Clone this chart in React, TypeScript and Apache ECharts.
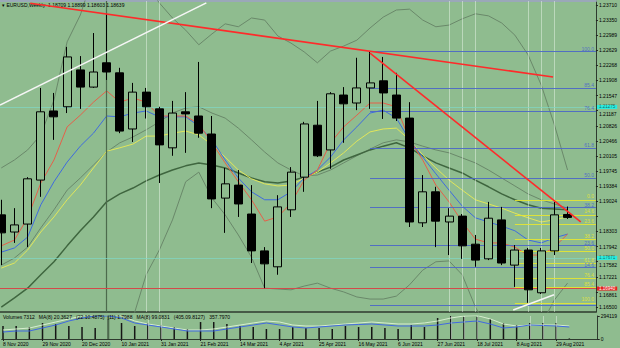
import { useEffect, useRef } from "react";
import * as echarts from "echarts";

// ---- data ----
const weeks = [
  "8 Nov 2020", "15 Nov 2020", "22 Nov 2020", "29 Nov 2020", "6 Dec 2020", "13 Dec 2020", "20 Dec 2020", "27 Dec 2020",
  "3 Jan 2021", "10 Jan 2021", "17 Jan 2021", "24 Jan 2021", "31 Jan 2021", "7 Feb 2021", "14 Feb 2021", "21 Feb 2021",
  "28 Feb 2021", "7 Mar 2021", "14 Mar 2021", "21 Mar 2021", "28 Mar 2021", "4 Apr 2021", "11 Apr 2021", "18 Apr 2021",
  "25 Apr 2021", "2 May 2021", "9 May 2021", "16 May 2021", "23 May 2021", "30 May 2021", "6 Jun 2021", "13 Jun 2021",
  "20 Jun 2021", "27 Jun 2021", "4 Jul 2021", "11 Jul 2021", "18 Jul 2021", "25 Jul 2021", "1 Aug 2021", "8 Aug 2021",
  "15 Aug 2021", "22 Aug 2021", "29 Aug 2021", "5 Sep 2021",
];
const opens = [1.1870, 1.1829, 1.1848, 1.1953, 1.2118, 1.2128, 1.2216, 1.2175, 1.2233, 1.2209, 1.2075, 1.2163, 1.2123, 1.2030, 1.2116, 1.2106, 1.2063, 1.1910, 1.1941, 1.1872, 1.1784, 1.1746, 1.1882, 1.1960, 1.2084, 1.2025, 1.2156, 1.2137, 1.2173, 1.2190, 1.2156, 1.2101, 1.1851, 1.1925, 1.1853, 1.1867, 1.1800, 1.1765, 1.1858, 1.1750, 1.1786, 1.1684, 1.1784, 1.18709];
const closes = [1.1827, 1.1846, 1.1956, 1.2116, 1.2104, 1.2247, 1.2175, 1.2211, 1.2211, 1.2070, 1.2163, 1.2128, 1.2037, 1.2113, 1.2111, 1.2065, 1.1908, 1.1944, 1.1896, 1.1784, 1.1753, 1.1889, 1.1972, 1.2087, 1.2011, 1.2159, 1.2135, 1.2173, 1.2185, 1.2161, 1.2101, 1.1853, 1.1925, 1.1855, 1.1867, 1.1796, 1.1762, 1.1862, 1.1755, 1.1786, 1.1691, 1.1784, 1.1870, 1.18639];
const lows = [1.1750, 1.1803, 1.1793, 1.1913, 1.2049, 1.2113, 1.2123, 1.2173, 1.2192, 1.2065, 1.2044, 1.2100, 1.1946, 1.2011, 1.2018, 1.2054, 1.1886, 1.1827, 1.1865, 1.1755, 1.1695, 1.1727, 1.1865, 1.1925, 1.2008, 1.1980, 1.2042, 1.2120, 1.2123, 1.2099, 1.2094, 1.1841, 1.1841, 1.1793, 1.1774, 1.1765, 1.1746, 1.1762, 1.1750, 1.1698, 1.1660, 1.1681, 1.1774, 1.18603];
const highs = [1.1906, 1.1886, 1.1960, 1.2173, 1.2161, 1.2271, 1.2249, 1.2304, 1.2350, 1.2221, 1.2185, 1.2173, 1.2128, 1.2142, 1.2163, 1.2235, 1.2106, 1.1982, 1.1977, 1.1941, 1.1793, 1.1917, 1.1984, 1.2092, 1.2142, 1.2163, 1.2175, 1.2245, 1.2259, 1.2247, 1.2209, 1.2139, 1.1965, 1.1937, 1.1886, 1.1872, 1.1822, 1.1901, 1.1889, 1.1798, 1.1791, 1.1791, 1.1901, 1.18899];

const maRed = [1.1796, 1.1810, 1.1863, 1.1946, 1.2001, 1.2080, 1.2108, 1.2139, 1.2166, 1.2139, 1.2149, 1.2139, 1.2106, 1.2106, 1.2106, 1.2087, 1.2042, 1.1994, 1.1949, 1.1906, 1.1855, 1.1865, 1.1898, 1.1953, 1.1977, 1.2042, 1.2080, 1.2108, 1.2137, 1.2137, 1.2128, 1.2049, 1.2001, 1.1941, 1.1901, 1.1853, 1.1812, 1.1803, 1.1803, 1.1793, 1.1774, 1.1774, 1.1793, 1.1824];
const maBlue = [1.1781, 1.1791, 1.1817, 1.1894, 1.1949, 1.1996, 1.2034, 1.2065, 1.2106, 1.2104, 1.2113, 1.2118, 1.2104, 1.2104, 1.2104, 1.2082, 1.2049, 1.2001, 1.1958, 1.1925, 1.1906, 1.1906, 1.1925, 1.1958, 1.1977, 1.2008, 1.2049, 1.2080, 1.2113, 1.2120, 1.2101, 1.2049, 1.2008, 1.1968, 1.1929, 1.1891, 1.1863, 1.1853, 1.1843, 1.1832, 1.1810, 1.1803, 1.1815, 1.1824];
const maYellow = [1.1743, 1.1755, 1.1786, 1.1829, 1.1865, 1.1906, 1.1941, 1.1982, 1.2022, 1.2030, 1.2039, 1.2058, 1.2058, 1.2065, 1.2070, 1.2061, 1.2037, 1.2008, 1.1977, 1.1956, 1.1944, 1.1939, 1.1941, 1.1958, 1.1972, 1.1994, 1.2018, 1.2046, 1.2068, 1.2075, 1.2077, 1.2049, 1.2013, 1.1982, 1.1953, 1.1929, 1.1906, 1.1896, 1.1886, 1.1874, 1.1863, 1.1853, 1.1858, 1.1865];
const maDarkGreen = [1.1650, 1.1672, 1.1695, 1.1727, 1.1758, 1.1796, 1.1832, 1.1865, 1.1901, 1.1920, 1.1934, 1.1951, 1.1965, 1.1977, 1.1987, 1.1994, 1.1989, 1.1982, 1.1970, 1.1958, 1.1949, 1.1946, 1.1951, 1.1960, 1.1972, 1.1984, 1.2001, 1.2013, 1.2025, 1.2034, 1.2042, 1.2030, 1.2011, 1.1994, 1.1982, 1.1970, 1.1953, 1.1937, 1.1920, 1.1906, 1.1894, 1.1886, 1.1884, 1.1882];
const bandUpper = [1.1982, 1.2001, 1.2025, 1.2061, 1.2144, 1.2283, 1.2347, 1.2443, 1.2478, 1.2490, 1.2488, 1.2419, 1.2376, 1.2340, 1.2311, 1.2276, 1.2302, 1.2326, 1.2319, 1.2340, 1.2335, 1.2297, 1.2280, 1.2259, 1.2233, 1.2261, 1.2273, 1.2287, 1.2316, 1.2342, 1.2359, 1.2361, 1.2335, 1.2319, 1.2323, 1.2338, 1.2350, 1.2345, 1.2328, 1.2299, 1.2252, 1.2180, 1.2085, 1.1977];
const bandMiddle = [1.1750, 1.1767, 1.1793, 1.1839, 1.1882, 1.1929, 1.1958, 1.1989, 1.2020, 1.2042, 1.2056, 1.2073, 1.2092, 1.2113, 1.2125, 1.2128, 1.2113, 1.2101, 1.2077, 1.2049, 1.2020, 1.1994, 1.1977, 1.1963, 1.1965, 1.1977, 1.1994, 1.2011, 1.2027, 1.2042, 1.2049, 1.2044, 1.2034, 1.2025, 1.2018, 1.2006, 1.1994, 1.1977, 1.1958, 1.1939, 1.1920, 1.1906, 1.1896, 1.1886];
const bandLower = [1.1519, 1.1533, 1.1562, 1.1617, 1.1619, 1.1576, 1.1569, 1.1536, 1.1562, 1.1593, 1.1624, 1.1727, 1.1786, 1.1858, 1.1949, 1.1972, 1.1910, 1.1870, 1.1822, 1.1769, 1.1695, 1.1693, 1.1691, 1.1700, 1.1707, 1.1695, 1.1686, 1.1674, 1.1669, 1.1669, 1.1676, 1.1703, 1.1738, 1.1758, 1.1760, 1.1727, 1.1650, 1.1595, 1.1559, 1.1547, 1.1571, 1.1607, 1.1667, 1.1707];

const volumes = [166000, 166000, 153000, 205000, 192000, 166000, 153000, 141000, 256000, 205000, 166000, 205000, 179000, 153000, 128000, 217000, 217000, 192000, 166000, 153000, 128000, 128000, 153000, 141000, 141000, 128000, 166000, 153000, 153000, 141000, 128000, 179000, 153000, 268000, 294119, 281000, 281000, 256000, 205000, 179000, 205000, 205000, 205000, 7312];
const volumeMaBlue = [89500, 102300, 102300, 140700, 179000, 230200, 268500, 294100, 294100, 268500, 204600, 179000, 153500, 127900, 102300, 102300, 102300, 127900, 153500, 179000, 204600, 179000, 153500, 140700, 153500, 166200, 179000, 185400, 191800, 179000, 166200, 166200, 166200, 179000, 204600, 217400, 230200, 191800, 140700, 153500, 179000, 172600, 166200, 153500];
const volumeMaLight = [115000, 128000, 140000, 179000, 217000, 256000, 294000, 310000, 320000, 294000, 230000, 192000, 166000, 140000, 115000, 115000, 128000, 153000, 179000, 205000, 230000, 217000, 179000, 166000, 166000, 179000, 192000, 205000, 217000, 205000, 192000, 192000, 205000, 230000, 268000, 294000, 300000, 256000, 192000, 166000, 179000, 179000, 179000, 166000];

const priceTicks = [1.23710, 1.23350, 1.22989, 1.22629, 1.22268, 1.21908, 1.21547, 1.21187, 1.20826, 1.20466, 1.20105, 1.19745, 1.19384, 1.19024, 1.18663, 1.18303, 1.17942, 1.17582, 1.17221, 1.16861, 1.16500];
// the label at 1.18663 is covered by the current-price box in the reference
const priceLabels = [1.23710, 1.23350, 1.22989, 1.22629, 1.22268, 1.21908, 1.21547, 1.21187, 1.20826, 1.20466, 1.20105, 1.19745, 1.19384, 1.19024, 1.18303, 1.17942, 1.17582, 1.17221, 1.16861, 1.16500];
// labels that sit just below a price box in the reference
const labelsBelowBoxes = [1.21187, 1.17582, 1.16861];
const volumeTicks = [0, 294119];
const dateTickIndexes = [0, 3, 6, 9, 12, 15, 18, 21, 24, 27, 30, 33, 36, 39, 42];

const fibBlueLevels = ["100.0", "85.4", "76.4", "61.8", "50.0", "38.2", "23.6", "14.6", ""];
const fibBluePrices = [1.2261, 1.2173, 1.2118, 1.2030, 1.1958, 1.1887, 1.1798, 1.1744, 1.1655];
const fibBlueStart = 28;
const fibYellowLevels = ["0.0", "14.6", "23.6", "38.2", "50.0", "61.8", "76.4", "85.4", "100.0"];
const fibYellowPrices = [1.1906, 1.1870, 1.1848, 1.1812, 1.1783, 1.1754, 1.1718, 1.1696, 1.1660];
const fibYellowStart = 39;

const trendRedA = [[2.2, 1.2375], [41.9, 1.2199]];
const trendRedB = [[28, 1.2256], [44, 1.1853]];
const trendWhiteA = [[-0.098, 1.2132], [15.57, 1.2376]];
const trendWhiteB = [[38.87, 1.1643], [41.97, 1.1679]];

const darkVerticals = [8];
const lightVerticals = [11, 12, 34, 35, 36, 40, 41, 42];

const lastPrice = 1.18639;
const redLevel = 1.1694;
const cyanLevels = [1.21275, 1.17671];

const titleText = "EURUSD,Weekly  1.18709 1.18899 1.18603 1.18639";
const volumeText = "Volumes 7312   MA(8) 20.3627   (22.10.4875)  (11) 1.7988   MA(8) 99.0831   (405.09.8127)   357.7970";

// ---- axis extents ----
const X_MIN = -0.098;
const X_MAX = 45.154;
const Y_MIN = 1.16381;
const Y_MAX = 1.23805;
const VOL_MAX = 294119;

const FONT = "Liberation Sans";
const BG = "#8FBC8F";
const BLUE_FIB = "#4A66C8";
const YELLOW_FIB = "#E6E632";

const xy = (arr: number[]) => arr.map((v, i) => [i, v]);

function buildOption(): any {
  const candleData = opens.map((o, i) => [i, o, closes[i], lows[i], highs[i]]);

  const verticalMarks = [
    ...darkVerticals.map((x) => ({ xAxis: x, lineStyle: { color: "#4C6A4C", width: 1.2, type: "solid" } })),
    ...lightVerticals.map((x) => ({ xAxis: x, lineStyle: { color: "rgba(232,244,232,0.5)", width: 1, type: "solid" } })),
  ];

  const fibLabel = (text: string, color: string, lift: number) => ({
    show: text !== "",
    formatter: text,
    position: "insideEndTop",
    color,
    fontSize: 5,
    lineHeight: 4,
    fontFamily: FONT,
    distance: [2, lift],
  });

  const fibMarks = [
    ...fibBlueLevels.map((lv, i) => [
      {
        coord: [fibBlueStart, fibBluePrices[i]],
        lineStyle: { color: BLUE_FIB, width: 1, type: "solid", opacity: 0.9 },
        label: fibLabel(lv, BLUE_FIB, 0.5),
      },
      { coord: [X_MAX, fibBluePrices[i]] },
    ]),
    ...fibYellowLevels.map((lv, i) => [
      {
        coord: [fibYellowStart, fibYellowPrices[i]],
        lineStyle: { color: YELLOW_FIB, width: 1, type: "solid", opacity: 0.9 },
        label: fibLabel(lv, YELLOW_FIB, 1.5),
      },
      { coord: [X_MAX, fibYellowPrices[i]] },
    ]),
  ];

  const boxLabel = (text: string, bg: string, fg: string) => ({
    show: true,
    position: "end",
    formatter: text,
    backgroundColor: bg,
    color: fg,
    fontSize: 4.5,
    lineHeight: 4,
    fontFamily: FONT,
    padding: [0, 2, 0, 2],
    distance: 1,
  });

  const levelMarks = [
    { yAxis: redLevel, lineStyle: { color: "#D24A4A", width: 1, type: "solid" }, label: boxLabel(redLevel.toFixed(5), "#E52222", "#ffffff") },
    ...cyanLevels.map((p) => ({
      yAxis: p,
      lineStyle: { color: "#7FD8C6", width: 1, type: "solid", opacity: 0.7 },
      label: boxLabel(p.toFixed(5), "#00FFFF", "#003333"),
    })),
    { yAxis: lastPrice, lineStyle: { opacity: 0, width: 0 }, label: boxLabel(lastPrice.toFixed(5), "#000000", "#ffffff") },
  ];

  const lineSeries = (name: string, data: number[], color: string, width: number, z: number, extra: any = {}) => ({
    name,
    type: "line",
    xAxisIndex: 0,
    yAxisIndex: 0,
    data: xy(data),
    showSymbol: false,
    symbol: "none",
    silent: true,
    z,
    lineStyle: { color, width },
    ...extra,
  });

  const trend = (name: string, data: number[][], color: string) => ({
    name,
    type: "line",
    xAxisIndex: 0,
    yAxisIndex: 0,
    data,
    showSymbol: false,
    symbol: "none",
    silent: true,
    z: 9,
    lineStyle: { color, width: 1.6 },
  });

  const hiddenAxisParts = {
    axisTick: { show: false },
    axisLabel: { show: false },
    splitLine: { show: false },
  };

  const priceLabelFormatter = (v: number) => {
    const s = v.toFixed(5);
    return labelsBelowBoxes.some((p) => Math.abs(p - v) < 1e-6) ? `{low|${s}}` : s;
  };

  return {
    animation: false,
    backgroundColor: BG,
    textStyle: { fontFamily: FONT },
    title: [
      {
        text: "\u25BE " + titleText,
        left: 2,
        top: 2.5,
        padding: 0,
        textStyle: { fontSize: 5, fontWeight: "normal", color: "#000", fontFamily: FONT },
      },
      {
        text: volumeText,
        left: 3,
        top: 314,
        padding: 0,
        textStyle: { fontSize: 5, fontWeight: "normal", color: "#000", fontFamily: FONT },
      },
    ],
    grid: [
      { left: 0, width: 598, top: 1, height: 311 },
      { left: 0, width: 598, top: 316, height: 23 },
    ],
    xAxis: [
      {
        type: "value",
        gridIndex: 0,
        min: X_MIN,
        max: X_MAX,
        axisLine: { show: true, onZero: false, lineStyle: { color: "#2E3A2E", width: 1.5 } },
        ...hiddenAxisParts,
      },
      {
        type: "value",
        gridIndex: 1,
        min: X_MIN,
        max: X_MAX,
        axisLine: { show: true, onZero: false, lineStyle: { color: "#2E3A2E", width: 1 } },
        axisTick: { show: true, customValues: dateTickIndexes, length: 2, lineStyle: { color: "#222" } },
        axisLabel: {
          show: true,
          customValues: dateTickIndexes,
          formatter: (v: number) => weeks[Math.round(v)] ?? "",
          fontSize: 5,
          color: "#000",
          align: "left",
          margin: 2,
          fontFamily: FONT,
        },
        splitLine: { show: false },
      },
      {
        type: "value",
        gridIndex: 0,
        position: "top",
        min: X_MIN,
        max: X_MAX,
        axisLine: { show: true, onZero: false, lineStyle: { color: "#9AA8B8", width: 2 } },
        ...hiddenAxisParts,
      },
    ],
    yAxis: [
      {
        type: "value",
        gridIndex: 0,
        position: "right",
        min: Y_MIN,
        max: Y_MAX,
        scale: true,
        axisLine: { show: true, onZero: false, lineStyle: { color: "#2E3A2E", width: 1 } },
        axisTick: { show: true, customValues: priceTicks, length: 2, lineStyle: { color: "#222" } },
        axisLabel: {
          show: true,
          customValues: priceLabels,
          formatter: priceLabelFormatter,
          fontSize: 5,
          lineHeight: 4,
          color: "#000",
          margin: 3,
          fontFamily: FONT,
          rich: {
            low: { fontSize: 5, lineHeight: 4, color: "#000", fontFamily: FONT, padding: [6, 0, 0, 0] },
          },
        },
        splitLine: { show: false },
      },
      {
        type: "value",
        gridIndex: 1,
        position: "right",
        min: 0,
        max: VOL_MAX,
        axisLine: { show: true, onZero: false, lineStyle: { color: "#2E3A2E", width: 1 } },
        axisTick: { show: true, customValues: volumeTicks, length: 2, lineStyle: { color: "#222" } },
        axisLabel: {
          show: true,
          customValues: volumeTicks,
          formatter: (v: number) => String(Math.round(v)),
          fontSize: 5,
          color: "#000",
          margin: 3,
          fontFamily: FONT,
        },
        splitLine: { show: false },
      },
    ],
    series: [
      lineSeries("Band upper", bandUpper, "#6A886A", 1, 2, {
        markLine: { silent: true, precision: 6, symbol: ["none", "none"], label: { show: false }, data: verticalMarks },
      }),
      lineSeries("Band middle", bandMiddle, "#6A886A", 1, 2, {
        markLine: { silent: true, precision: 6, symbol: ["none", "none"], data: [...fibMarks, ...levelMarks] },
      }),
      lineSeries("Band lower", bandLower, "#6A886A", 1, 2),
      lineSeries("MA dark green", maDarkGreen, "#3F663F", 1.5, 3),
      lineSeries("MA yellow", maYellow, "#E1E65A", 1, 3),
      lineSeries("MA blue", maBlue, "#3F6BDE", 1, 3),
      lineSeries("MA red", maRed, "#E5604A", 1, 3),
      {
        name: "EURUSD",
        type: "candlestick",
        xAxisIndex: 0,
        yAxisIndex: 0,
        data: candleData,
        barWidth: 8.5,
        silent: true,
        z: 5,
        itemStyle: {
          color: BG,
          color0: "#000000",
          borderColor: "#000000",
          borderColor0: "#000000",
          borderWidth: 1,
        },
      },
      trend("Trend red A", trendRedA, "#FF2A2A"),
      trend("Trend red B", trendRedB, "#FF2A2A"),
      trend("Trend white A", trendWhiteA, "#F6F6F6"),
      trend("Trend white B", trendWhiteB, "#F6F6F6"),
      {
        name: "Volumes",
        type: "bar",
        xAxisIndex: 1,
        yAxisIndex: 1,
        data: xy(volumes),
        barWidth: 1.5,
        silent: true,
        z: 3,
        itemStyle: { color: "#151515" },
        markLine: { silent: true, precision: 6, symbol: ["none", "none"], label: { show: false }, data: verticalMarks },
      },
      {
        name: "Volume MA light",
        type: "line",
        xAxisIndex: 1,
        yAxisIndex: 1,
        data: xy(volumeMaLight),
        showSymbol: false,
        symbol: "none",
        silent: true,
        z: 4,
        lineStyle: { color: "#D6EECF", width: 1 },
      },
      {
        name: "Volume MA blue",
        type: "line",
        xAxisIndex: 1,
        yAxisIndex: 1,
        data: xy(volumeMaBlue),
        showSymbol: false,
        symbol: "none",
        silent: true,
        z: 4,
        lineStyle: { color: "#4169E1", width: 1 },
      },
    ],
  };
}

export default function App() {
  const ref = useRef<HTMLDivElement>(null);
  useEffect(() => {
    if (!ref.current) return;
    const chart = echarts.init(ref.current, null, { renderer: "svg" });
    chart.setOption(buildOption());
    return () => chart.dispose();
  }, []);
  return (
    <div
      ref={ref}
      style={{ position: "fixed", left: 0, top: 0, width: 620, height: 348, background: BG }}
    />
  );
}
